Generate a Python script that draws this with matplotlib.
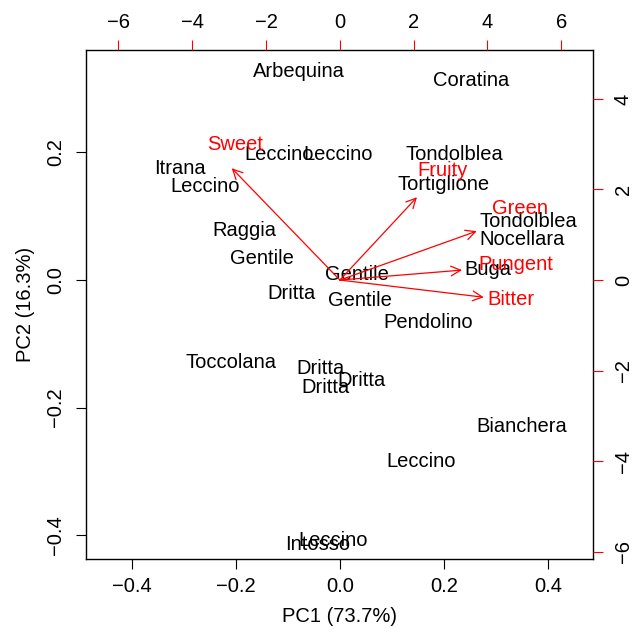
import matplotlib
matplotlib.use("Agg")
import matplotlib.pyplot as plt

plt.rcParams["font.family"] = ["Liberation Sans", "DejaVu Sans"]
FS = 14.5

# ── scores (PC1, PC2) ──
cultivars = ["Arbequina", "Coratina", "Leccino", "Leccino", "Itrana", "Leccino",
             "Tondolblea", "Tortiglione", "Tondolblea", "Nocellara", "Raggia",
             "Gentile", "Gentile", "Buga", "Dritta", "Gentile", "Pendolino",
             "Toccolana", "Dritta", "Dritta", "Dritta", "Bianchera", "Leccino",
             "Leccino", "Intosso"]
pc1 = [-0.079, 0.252, -0.117, -0.004, -0.308, -0.258, 0.221, 0.200, 0.363, 0.350,
       -0.183, -0.150, 0.033, 0.285, -0.092, 0.038, 0.171, -0.210, -0.037, 0.042,
       -0.027, 0.350, 0.156, -0.013, -0.042]
pc2 = [0.326, 0.312, 0.196, 0.196, 0.174, 0.146, 0.197, 0.149, 0.092, 0.064,
       0.078, 0.033, 0.009, 0.016, -0.022, -0.033, -0.067, -0.129, -0.138, -0.157,
       -0.168, -0.230, -0.284, -0.408, -0.415]

# ── loadings (arrow tips and label positions) ──
attributes = ["Sweet", "Fruity", "Green", "Pungent", "Bitter"]
arrow_x = [-2.93, 2.09, 3.71, 3.31, 3.90]
arrow_y = [2.47, 1.83, 1.08, 0.22, -0.38]
label_x = [-2.85, 2.79, 4.88, 4.77, 4.63]
label_y = [3.00, 2.41, 1.57, 0.35, -0.42]

fig = plt.figure(figsize=(6.32, 6.33), dpi=100)
rect = [86 / 632, 1 - 559 / 633, (593 - 86) / 632, (559 - 50) / 633]
ax = fig.add_axes(rect)
ax.set_xlim(-0.488, 0.487)
ax.set_ylim(-0.437, 0.360)
for name, x, y in zip(cultivars, pc1, pc2):
    ax.text(x, y, name, fontsize=FS, ha="center", va="center", color="black")

ax.set_xticks([-0.4, -0.2, 0.0, 0.2, 0.4])
ax.set_xticklabels(["\u22120.4", "\u22120.2", "0.0", "0.2", "0.4"])
ax.set_yticks([-0.4, -0.2, 0.0, 0.2])
ax.set_yticklabels(["\u22120.4", "\u22120.2", "0.0", "0.2"], rotation=90, va="center")
ax.tick_params(axis="x", length=7, width=0.8, pad=6, labelsize=FS)
ax.tick_params(axis="y", length=7, width=0.8, pad=8, labelsize=FS)
ax.set_xlabel("PC1 (73.7%)", fontsize=FS, labelpad=8)
ax.set_ylabel("PC2 (16.3%)", fontsize=FS, labelpad=8)
for s in ax.spines.values():
    s.set_linewidth(1.0)

# second coordinate system for the variables
ax2 = fig.add_axes(rect, frameon=False)
ax2.set_xlim(-6.88, 6.86)
ax2.set_ylim(-6.16, 5.08)
ax2.xaxis.tick_top()
ax2.yaxis.tick_right()
ax2.set_xticks([-6, -4, -2, 0, 2, 4, 6])
ax2.set_xticklabels(["\u22126", "\u22124", "\u22122", "0", "2", "4", "6"])
ax2.set_yticks([-6, -4, -2, 0, 2, 4])
ax2.set_yticklabels(["\u22126", "\u22124", "\u22122", "0", "2", "4"], rotation=90, va="center")
ax2.tick_params(axis="x", length=7, width=0.8, pad=6, labelsize=FS, color="red")
ax2.tick_params(axis="y", length=7, width=0.8, pad=8, labelsize=FS, color="red")

for name, ex, ey, lx, ly in zip(attributes, arrow_x, arrow_y, label_x, label_y):
    ax2.annotate("", xy=(ex, ey), xytext=(0, 0),
                 arrowprops=dict(arrowstyle="->,head_length=0.7,head_width=0.35",
                                 color="red", lw=0.9, shrinkA=0, shrinkB=0))
    ax2.text(lx, ly, name, fontsize=FS, ha="center", va="center", color="red")

fig.savefig("out.png", dpi=100)
